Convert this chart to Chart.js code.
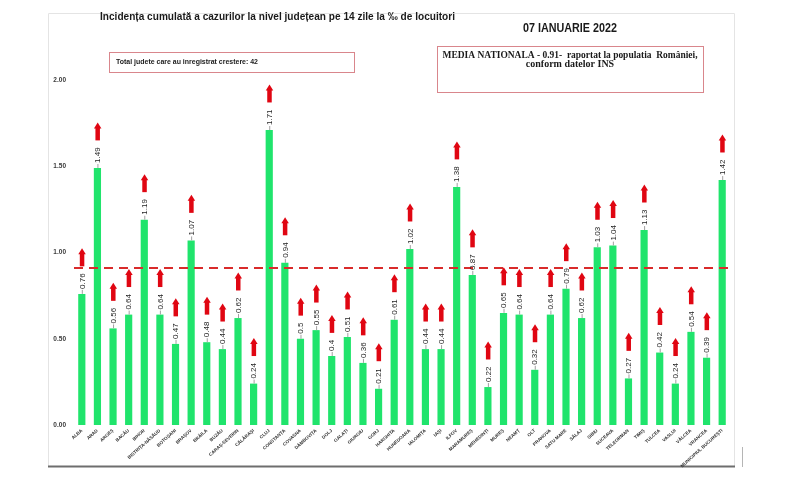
<!DOCTYPE html>
<html>
<head>
<meta charset="utf-8">
<script src="https://cdn.jsdelivr.net/npm/chart.js@4.4.1/dist/chart.umd.min.js"></script>
<style>
  html, body { margin: 0; padding: 0; background: #fff; }
  #wrap { width: 800px; height: 489px; position: relative; }
</style>
</head>
<body>
<div id="wrap"><canvas id="myChart" width="800" height="489"></canvas></div>
<script>
// date
const judete = ['ALBA', 'ARAD', 'ARGEȘ', 'BACĂU', 'BIHOR', 'BISTRIȚA-NĂSĂUD', 'BOTOȘANI', 'BRAȘOV', 'BRĂILA', 'BUZĂU',
  'CARAȘ-SEVERIN', 'CĂLĂRAȘI', 'CLUJ', 'CONSTANȚA', 'COVASNA', 'DÂMBOVIȚA', 'DOLJ', 'GALAȚI', 'GIURGIU', 'GORJ',
  'HARGHITA', 'HUNEDOARA', 'IALOMIȚA', 'IAȘI', 'ILFOV', 'MARAMUREȘ', 'MEHEDINȚI', 'MUREȘ', 'NEAMȚ', 'OLT',
  'PRAHOVA', 'SATU MARE', 'SĂLAJ', 'SIBIU', 'SUCEAVA', 'TELEORMAN', 'TIMIȘ', 'TULCEA', 'VASLUI', 'VÂLCEA',
  'VRANCEA', 'MUNICIPIUL BUCUREȘTI']
const incidenta = [0.76, 1.49, 0.56, 0.64, 1.19, 0.64, 0.47, 1.07, 0.48, 0.44,
  0.62, 0.24, 1.71, 0.94, 0.5, 0.55, 0.4, 0.51, 0.36, 0.21,
  0.61, 1.02, 0.44, 0.44, 1.38, 0.87, 0.22, 0.65, 0.64, 0.32,
  0.64, 0.79, 0.62, 1.03, 1.04, 0.27, 1.13, 0.42, 0.24, 0.54,
  0.39, 1.42]
const mediaNationala = 0.91
const yMin = 0
const yMax = 2
const yPas = 0.5
const totalCrestere = 42

const titlu = 'Incidența cumulată a cazurilor la nivel județean pe 14 zile la ‰ de locuitori'
const dataRaport = '07 IANUARIE 2022'

// scrie text strans pe o latime data
function textPeLatime(ctx, text, x, y, latime) {
  const w = ctx.measureText(text).width
  ctx.save()
  ctx.translate(x, y)
  if (w > latime) ctx.scale(latime / w, 1)
  ctx.fillText(text, 0, 0)
  ctx.restore()
}

const decor = {
  id: 'decor',
  beforeDraw(chart) {
    const ctx = chart.ctx
    ctx.save()
    // rama
    ctx.strokeStyle = '#e4e4e4'
    ctx.lineWidth = 1
    ctx.beginPath()
    ctx.moveTo(48.5, 466)
    ctx.lineTo(48.5, 13.5)
    ctx.lineTo(734.5, 13.5)
    ctx.lineTo(734.5, 466)
    ctx.stroke()
    ctx.strokeStyle = '#6e6e6e'
    ctx.lineWidth = 2
    ctx.beginPath()
    ctx.moveTo(48, 466.5)
    ctx.lineTo(735, 466.5)
    ctx.stroke()
    ctx.strokeStyle = '#b5b5b5'
    ctx.lineWidth = 1
    ctx.beginPath()
    ctx.moveTo(742.5, 447)
    ctx.lineTo(742.5, 467)
    ctx.stroke()
    ctx.restore()
  },
  afterDraw(chart) {
    const ctx = chart.ctx
    const y = chart.scales.y
    const meta = chart.getDatasetMeta(0)
    ctx.save()

    // linia medie nationala
    const ym = y.getPixelForValue(mediaNationala)
    ctx.strokeStyle = '#d92b2b'
    ctx.lineWidth = 2
    ctx.setLineDash([9, 6])
    ctx.beginPath()
    ctx.moveTo(chart.chartArea.left, ym)
    ctx.lineTo(chart.chartArea.right, ym)
    ctx.stroke()
    ctx.setLineDash([])

    // etichete + sageti
    ctx.font = '8px "Liberation Sans Narrow", "Liberation Sans", sans-serif'
    meta.data.forEach((bar, i) => {
      const txt = String(incidenta[i])
      const tw = ctx.measureText(txt).width
      ctx.strokeStyle = '#a0a0a0'
      ctx.lineWidth = 1
      ctx.beginPath()
      ctx.moveTo(bar.x + 0.5, bar.y)
      ctx.lineTo(bar.x + 0.5, bar.y - 4)
      ctx.stroke()

      ctx.save()
      ctx.translate(bar.x, bar.y - 4)
      ctx.rotate(-Math.PI / 2)
      ctx.fillStyle = '#1e1e1e'
      ctx.textAlign = 'left'
      ctx.textBaseline = 'middle'
      ctx.fillText(txt, 1, 0.5)
      ctx.restore()

      const jos = bar.y - 4 - tw - 8
      const sus = jos - 18
      ctx.fillStyle = '#e00612'
      ctx.fillRect(bar.x - 2, sus + 5, 4.5, jos - sus - 5)
      ctx.beginPath()
      ctx.moveTo(bar.x - 3.5, sus + 6)
      ctx.lineTo(bar.x + 0.25, sus)
      ctx.lineTo(bar.x + 4, sus + 6)
      ctx.closePath()
      ctx.fill()
    })

    // titlu
    ctx.fillStyle = '#1a1a1a'
    ctx.textAlign = 'left'
    ctx.textBaseline = 'middle'
    ctx.font = 'bold 11px "Liberation Sans", sans-serif'
    textPeLatime(ctx, titlu, 100, 17, 355)
    ctx.font = 'bold 13px "Liberation Sans", sans-serif'
    textPeLatime(ctx, dataRaport, 523, 28, 94)

    // caseta 1
    ctx.strokeStyle = '#d9868c'
    ctx.lineWidth = 1
    ctx.strokeRect(109.5, 52.5, 245, 20)
    ctx.font = 'bold 8px "Liberation Sans", sans-serif'
    textPeLatime(ctx, 'Total judete care au inregistrat crestere: ' + totalCrestere, 116, 62, 142)

    // caseta 2
    ctx.strokeRect(437.5, 46.5, 266, 46)
    ctx.font = 'bold 10px "Liberation Serif", serif'
    ctx.textAlign = 'center'
    const l1 = 'MEDIA NATIONALA - ' + mediaNationala + '-  raportat la populatia  României,'
    const w1 = ctx.measureText(l1).width
    ctx.save()
    ctx.translate(570, 55)
    if (w1 > 255) ctx.scale(255 / w1, 1)
    ctx.fillText(l1, 0, 0)
    ctx.restore()
    ctx.fillText('conform datelor INS', 570, 64.5)

    ctx.restore()
  }
}

const ctx = document.getElementById('myChart')
new Chart(ctx, {
  type: 'bar',
  data: {
    labels: judete,
    datasets: [{
      label: 'Incidenta',
      data: incidenta,
      backgroundColor: '#20e46c',
      borderWidth: 0,
      barPercentage: 0.46,
      categoryPercentage: 1
    }]
  },
  options: {
    responsive: false,
    animation: false,
    devicePixelRatio: 1,
    layout: { padding: { left: 48, right: 70, top: 80, bottom: 14 } },
    plugins: { legend: { display: false }, tooltip: { enabled: false } },
    scales: {
      x: {
        offset: true,
        grid: { display: false, drawTicks: false },
        border: { display: false },
        ticks: {
          autoSkip: false,
          maxRotation: 42,
          minRotation: 42,
          padding: 3,
          color: '#333',
          font: { size: 4.6, weight: 'bold', family: '"Liberation Sans", sans-serif' }
        },
        afterFit(s) { s.height = 50 }
      },
      y: {
        min: yMin,
        max: yMax,
        grid: { display: false, drawTicks: false },
        border: { display: false },
        ticks: {
          stepSize: yPas,
          padding: 8,
          color: '#3a3a3a',
          font: { size: 6.5, weight: 'bold', family: '"Liberation Sans", sans-serif' },
          callback: v => v.toFixed(2)
        },
        afterFit(s) { s.width = 26 }
      }
    }
  },
  plugins: [decor]
})
</script>
</body>
</html>
